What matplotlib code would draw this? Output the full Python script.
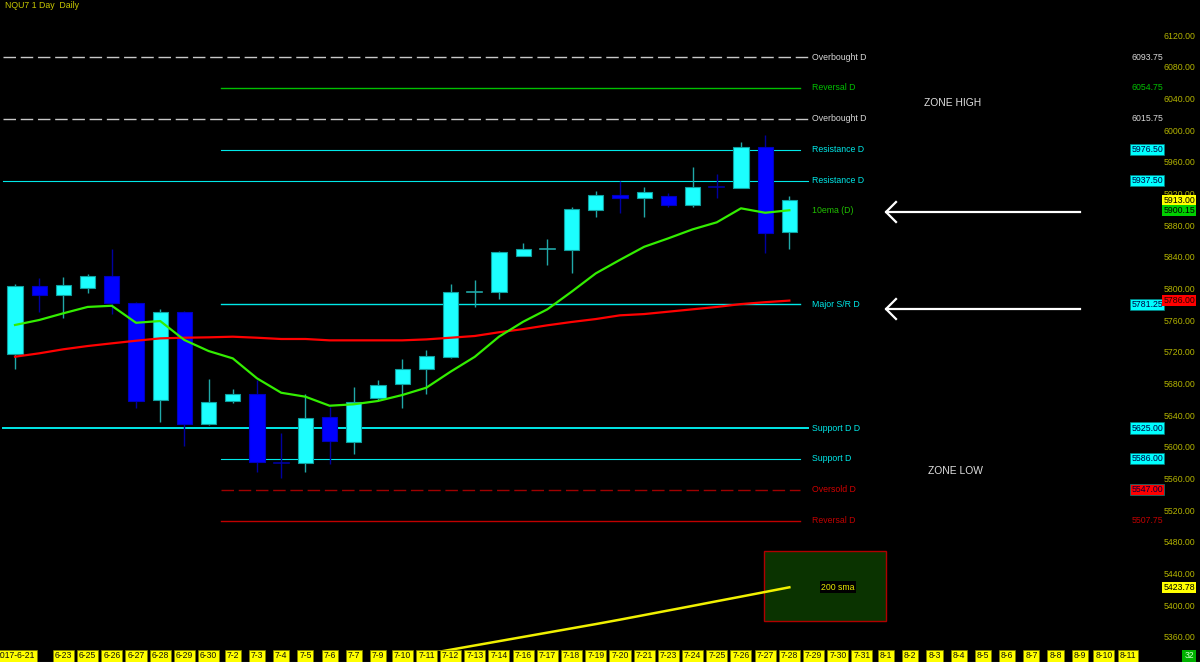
import matplotlib
matplotlib.use('Agg')
import matplotlib.pyplot as plt
from matplotlib.patches import Rectangle
import matplotlib.transforms as mtransforms
import numpy as np

plt.rcParams['font.family'] = ['Liberation Sans', 'DejaVu Sans']

title = 'NQU7 1 Day  Daily'

dates = ['2017-6-21', '6-22', '6-23', '6-25', '6-26', '6-27', '6-28', '6-29', '6-30',
         '7-2', '7-3', '7-4', '7-5', '7-6', '7-7', '7-9', '7-10', '7-11', '7-12',
         '7-13', '7-14', '7-16', '7-17', '7-18', '7-19', '7-20', '7-21', '7-23',
         '7-24', '7-25', '7-26', '7-27', '7-28']
future_dates = ['7-29', '7-30', '7-31', '8-1', '8-2', '8-3', '8-4', '8-5', '8-6',
                '8-7', '8-8', '8-9', '8-10', '8-11']
hidden_labels = ['6-22']

opens = [5719, 5804.5, 5793, 5802.5, 5816.75, 5783, 5660.75, 5772, 5630, 5658.75,
         5667.5, 5581.25, 5581, 5639, 5607.75, 5662.5, 5681, 5700, 5715.25, 5796.5,
         5796.5, 5842.75, 5850.75, 5850, 5900.75, 5919.5, 5915.25, 5918, 5906.75,
         5929.25, 5928, 5980.5, 5872.5]
highs = [5807, 5814.5, 5816, 5819.5, 5851, 5784.5, 5775.75, 5772.5, 5687, 5674.25,
         5685.75, 5618.25, 5668, 5651, 5676.5, 5685.75, 5711.75, 5724, 5807, 5812,
         5848.5, 5858.25, 5863.75, 5904.5, 5924.75, 5937.5, 5929, 5921.5, 5954.75,
         5946, 5986.75, 5995.25, 5918]
lows = [5700, 5771.5, 5764, 5796, 5769, 5650.75, 5633, 5602.75, 5628.5, 5657,
        5569.75, 5561.5, 5569.75, 5580, 5592, 5660, 5650.75, 5668, 5714, 5778,
        5788, 5842.5, 5831.25, 5820.5, 5892, 5897, 5891.25, 5904.5, 5904.5,
        5916, 5927.75, 5845.75, 5850.75]
closes = [5804.5, 5793, 5805.5, 5816.75, 5782.5, 5659.5, 5772, 5630.5, 5658.25, 5668,
          5581.75, 5581, 5638, 5609, 5657.5, 5680, 5699, 5715.5, 5797, 5796.75,
          5847.5, 5850.75, 5851, 5901.75, 5919.5, 5915.25, 5923.25, 5906.75, 5929,
          5929, 5980.5, 5871.75, 5913]

ema10 = [5755.2, 5761.5, 5770, 5778, 5779.5, 5758, 5760.2, 5736.2, 5722.3, 5713,
         5687.8, 5669.6, 5664.6, 5653.2, 5655, 5659.2, 5666.7, 5676, 5696.2, 5715,
         5740.4, 5759.3, 5775, 5797.2, 5820.4, 5837.5, 5854, 5864.7, 5876, 5884.9,
         5902.6, 5897, 5900.15]
sma50 = [5715.1, 5719.4, 5724.5, 5728.6, 5732, 5735.3, 5738.3, 5739.1, 5739.6, 5740.4,
         5739.1, 5737.5, 5737.5, 5735.8, 5735.8, 5735.8, 5735.8, 5737, 5739.1, 5741.3,
         5746, 5750, 5754.8, 5759, 5762.7, 5767.4, 5769, 5772, 5775, 5778,
         5781.6, 5784, 5786]
sma200_start = 17
sma200 = [5339.5, 5344.9, 5350.3, 5355.7, 5361.1, 5366.5, 5371.9, 5377.3, 5382.9,
          5388.7, 5394.5, 5400.3, 5406.2, 5412.0, 5417.9, 5423.78]

price_ticks = [6120, 6080, 6040, 6000, 5960, 5920, 5880, 5840, 5800, 5760, 5720,
               5680, 5640, 5600, 5560, 5520, 5480, 5440, 5400, 5360]

level_names = ['Overbought D', 'Reversal D', 'Overbought D', 'Resistance D',
               'Resistance D', 'Major S/R D', 'Support D D', 'Support D',
               'Oversold D', 'Reversal D']
level_values = [6093.75, 6054.75, 6015.75, 5976.50, 5937.50, 5781.25, 5625.00,
                5586.00, 5547.00, 5507.75]
level_value_labels = ['6093.75', '6054.75', '6015.75', '5976.50', '5937.50',
                      '5781.25', '5625.00', '5586.00', '5547.00', '5507.75']

# ---- styles ----
CYAN = '#00e8e8'
lvl_style = [
    dict(full=True, ls='dash', color='#c8c8c8', tcolor='#d8d8d8', box=None, lw=1.0),
    dict(full=False, ls='-', color='#00c000', tcolor='#00c000', box=None, lw=1.0),
    dict(full=True, ls='dash', color='#c8c8c8', tcolor='#d8d8d8', box=None, lw=1.0),
    dict(full=False, ls='-', color=CYAN, tcolor=CYAN, box='#00ffff', lw=0.8),
    dict(full=True, ls='-', color=CYAN, tcolor=CYAN, box='#00ffff', lw=0.8),
    dict(full=False, ls='-', color=CYAN, tcolor=CYAN, box='#00ffff', lw=1.0),
    dict(full=True, ls='-', color=CYAN, tcolor=CYAN, box='#00ffff', lw=1.4),
    dict(full=False, ls='-', color=CYAN, tcolor=CYAN, box='#00ffff', lw=0.8),
    dict(full=False, ls='dash', color='#a00000', tcolor='#d00000', box='#ff0000', lw=1.0),
    dict(full=False, ls='-', color='#c00000', tcolor='#c00000', box=None, lw=1.0),
]

W, H = 1200, 662
fig = plt.figure(figsize=(W / 100, H / 100), dpi=100, facecolor='black')
ax = fig.add_axes([0, 11 / H, 1, 651 / H])
ax.set_facecolor('black')
ax.set_xlim(-0.62, 48.97)
ax.set_ylim(5343.3, 6165.8)
ax.axis('off')

FS = 6.3
tr_ax_x = mtransforms.blended_transform_factory(ax.transAxes, ax.transData)
tr_data_fig = mtransforms.blended_transform_factory(ax.transData, fig.transFigure)

# title
fig.text(5 / W, 1 - 6 / H, title, color='#c8c800', fontsize=6.3, ha='left', va='center')

# price ticks on right
for p in price_ticks:
    ax.text(1195 / W, p, f'{p:.2f}', transform=tr_ax_x, color='#b4b400',
            fontsize=FS, ha='right', va='center', zorder=2)

# level lines
x_full = (-0.5, 32.77)
x_part = (8.5, 32.45)
for name, val, vlab, st in zip(level_names, level_values, level_value_labels, lvl_style):
    xs = x_full if st['full'] else x_part
    if st['ls'] == 'dash':
        ax.plot(xs, [val, val], color=st['color'], lw=st['lw'], dashes=(9, 3.4), zorder=1)
    else:
        ax.plot(xs, [val, val], color=st['color'], lw=st['lw'], zorder=1)
    ax.text(812 / W, val, name, transform=tr_ax_x, color=st['tcolor'], fontsize=FS,
            ha='left', va='center')
    if st['box']:
        ax.text(1163 / W, val, vlab, transform=tr_ax_x, color='#000040', fontsize=FS,
                ha='right', va='center', zorder=5,
                bbox=dict(boxstyle='square,pad=0.12', fc=st['box'], ec='#008080', lw=0.5))
    else:
        ax.text(1163 / W, val, vlab, transform=tr_ax_x, color=st['tcolor'], fontsize=FS,
                ha='right', va='center', zorder=5)

ax.text(812 / W, ema10[-1], '10ema (D)', transform=tr_ax_x, color='#20c000',
        fontsize=FS, ha='left', va='center')

# candles
bw = 0.63
for i, (o, h, l, c) in enumerate(zip(opens, highs, lows, closes)):
    up = c >= o
    if up:
        fc, ec, wc = '#1cffff', '#10a0a0', '#20a8a8'
    else:
        fc, ec, wc = '#0000ff', '#0000c0', '#0000a0'
    ax.plot([i, i], [l, h], color=wc, lw=1.0, zorder=3, solid_capstyle='butt')
    if abs(c - o) < 0.6:
        ax.plot([i - bw / 2, i + bw / 2], [o, o], color=wc, lw=1.2, zorder=4)
    else:
        ax.add_patch(Rectangle((i - bw / 2, min(o, c)), bw, abs(c - o), fc=fc, ec=ec,
                               lw=0.8, zorder=4))

# moving averages
idx = np.arange(len(dates))
ax.plot(idx, sma50, color='#ff0000', lw=1.6, zorder=6)
ax.plot(idx, ema10, color='#33ee00', lw=1.6, zorder=6)

# 200 sma box and line
ax.add_patch(Rectangle((30.95, 5381.2), 5.04, 88.4, fc='#0a3300', ec='#b00000', lw=1.0,
                       zorder=1))
sma_idx = np.arange(sma200_start, sma200_start + len(sma200))
ax.plot(sma_idx, sma200, color='#f0f000', lw=1.8, zorder=6)
ax.text(34.0, sma200[-1], '200 sma', color='#e8e800', fontsize=FS, ha='center',
        va='center', zorder=7, bbox=dict(boxstyle='square,pad=0.15', fc='black', ec='none'))

# right side value boxes
ax.text(1195 / W, closes[-1], f'{closes[-1]:.2f}', transform=tr_ax_x, color='black',
        fontsize=FS, ha='right', va='center', zorder=8,
        bbox=dict(boxstyle='square,pad=0.12', fc='#ffff00', ec='none'))
ax.text(1195 / W, ema10[-1], f'{ema10[-1]:.2f}', transform=tr_ax_x, color='black',
        fontsize=FS, ha='right', va='center', zorder=8,
        bbox=dict(boxstyle='square,pad=0.12', fc='#00d000', ec='none'))
ax.text(1195 / W, sma50[-1], f'{sma50[-1]:.2f}', transform=tr_ax_x, color='#200000',
        fontsize=FS, ha='right', va='center', zorder=8,
        bbox=dict(boxstyle='square,pad=0.12', fc='#ff0000', ec='none'))
ax.text(1195 / W, sma200[-1], f'{sma200[-1]:.2f}', transform=tr_ax_x, color='black',
        fontsize=FS, ha='right', va='center', zorder=8,
        bbox=dict(boxstyle='square,pad=0.12', fc='#ffff00', ec='none'))

# zone texts
fig.text(953 / W, 1 - 103 / H, 'ZONE HIGH', color='#e0e0e0', fontsize=7.4,
         ha='center', va='center')
fig.text(955 / W, 1 - 471 / H, 'ZONE LOW', color='#e0e0e0', fontsize=7.4,
         ha='center', va='center')

# arrows
for ya in (212, 309):
    y = 1 - ya / H
    fig.add_artist(plt.Line2D([886 / W, 1080 / W], [y, y], color='white', lw=1.6))
    fig.add_artist(plt.Line2D([896 / W, 886 / W, 896 / W],
                              [y + 10 / H, y, y - 10 / H], color='white', lw=1.6))

# date labels
label_y = 1 - 656 / H
all_dates = dates + future_dates
for i, d in enumerate(all_dates):
    if d in hidden_labels:
        continue
    t = fig.text(0, 0, d, transform=tr_data_fig, fontsize=6.2, color='#101010',
                 ha='center', va='center', zorder=10,
                 bbox=dict(boxstyle='square,pad=0.22', fc='#ffff00', ec='#808000', lw=0.5))
    t.set_position((i, label_y))

fig.text(1189 / W, label_y, str(len(dates) - 1), fontsize=6.2, color='#d0ffd0',
         ha='center', va='center',
         bbox=dict(boxstyle='square,pad=0.22', fc='#00b000', ec='none'))

fig.add_artist(plt.Line2D([0, 1], [0.5 / H, 0.5 / H], color='#808080', lw=0.8))

fig.savefig('out.png', dpi=100, facecolor='black')
